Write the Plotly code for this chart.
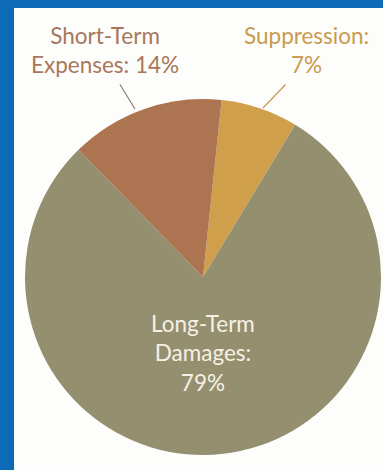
import plotly.graph_objects as go

labels = ["Suppression", "Long-Term Damages", "Short-Term Expenses"]
values = [7, 79, 14]
colors = ["#cf9f4b", "#948f6e", "#ac7450"]
label_text = ["Suppression:<br>{v}%", "Long-Term<br>Damages:<br>{v}%", "Short-Term<br>Expenses: {v}%"]
text_colors = ["#c99b4d", "#f6f1e4", "#a8775a"]

W, H = 383, 470
cx, cy, r = 203, 277, 178

fig = go.Figure()
fig.add_trace(go.Pie(
    labels=labels, values=values, sort=False, direction="clockwise",
    rotation=6, marker=dict(colors=colors, line=dict(width=0)),
    textinfo="none", hoverinfo="label+percent", showlegend=False,
    domain=dict(x=[(cx - r) / W, (cx + r) / W], y=[(H - cy - r) / H, (H - cy + r) / H]),
))

font_family = "Lato, 'Open Sans', sans-serif"
# text label positions (px from top-left)
text_pos = [(306, 50), (203, 353), (105, 50)]
anns = []
for i in range(3):
    x, y = text_pos[i]
    anns.append(dict(
        x=x / W, y=1 - y / H, xref="paper", yref="paper", showarrow=False,
        text=label_text[i].format(v=values[i]),
        font=dict(family=font_family, size=22.5, color=text_colors[i]),
        xanchor="center", yanchor="middle", align="center",
    ))
# leader lines: (head x, head y, tail x, tail y, color)
leaders = [(263, 108, 287, 83, "#c49a50"), (135, 109, 119, 83, "#8c7b6c")]
for hx, hy, tx, ty, c in leaders:
    anns.append(dict(
        x=hx / W, y=1 - hy / H, xref="paper", yref="paper", text="",
        showarrow=True, arrowhead=0, arrowwidth=1.2, arrowcolor=c,
        ax=tx - hx, ay=ty - hy, standoff=0, startstandoff=0,
    ))

fig.update_layout(
    width=W, height=H, margin=dict(l=0, r=0, t=0, b=0),
    paper_bgcolor="#0c6ab6", plot_bgcolor="#fdfdfb",
    annotations=anns,
    shapes=[dict(type="rect", xref="paper", yref="paper", x0=14 / W, x1=1.01,
                 y0=-0.01, y1=1 - 8 / H, fillcolor="#fdfdfb", line=dict(width=0), layer="below")],
)
fig.write_html("out.html")
